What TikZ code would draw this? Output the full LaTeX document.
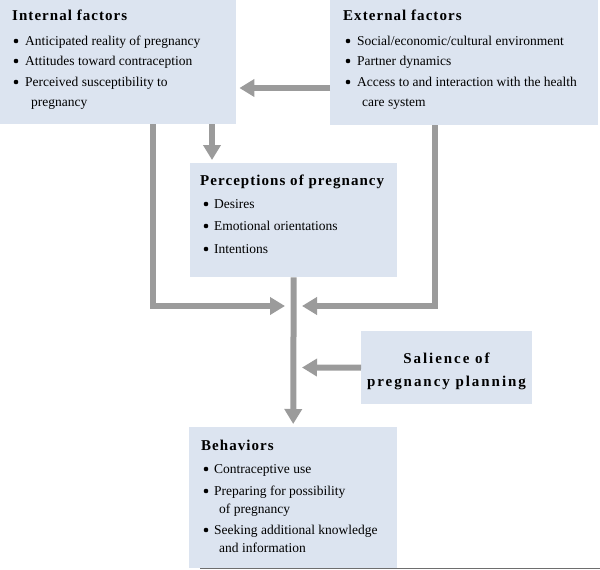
\documentclass[tikz,border=0pt]{standalone}
\usepackage{fontspec}
\setmainfont{Liberation Serif}
\usetikzlibrary{arrows.meta}
\definecolor{boxfill}{RGB}{220,228,240}
\definecolor{arrowgray}{RGB}{155,155,155}
\definecolor{rulegray}{RGB}{110,110,110}
\begin{document}
\begin{tikzpicture}[x=1pt,y=-1pt,
  box/.style={draw=none, fill=boxfill, inner sep=0pt, anchor=north west},
  ttl/.style={anchor=base west, inner sep=0pt, font=\fontsize{15}{18}\selectfont\bfseries\addfontfeature{LetterSpace=7}},
  sal/.style={anchor=base, inner sep=0pt, font=\fontsize{15}{18}\selectfont\bfseries\addfontfeature{LetterSpace=13}},
  itm/.style={anchor=base west, inner sep=0pt, font=\fontsize{13.5}{16}\selectfont},
  bul/.style={circle, fill=black, inner sep=0pt, minimum size=4.6pt},
  flow/.style={draw=arrowgray, line width=6pt, -{Triangle[length=15pt,width=17pt]}},
]
\useasboundingbox (0,0) rectangle (600,570);

% boxes
\node[box, minimum width=236pt, minimum height=124pt] (int) at (0,0) {};
\node[box, minimum width=268pt, minimum height=125pt] (ext) at (330,0) {};
\node[box, minimum width=207pt, minimum height=114pt] (perc) at (190,163) {};
\node[box, minimum width=171pt, minimum height=73pt] (salbox) at (361,331) {};
\node[box, minimum width=208pt, minimum height=141pt] (beh) at (189,427) {};

% Internal factors
\node[ttl] (intT) at (12,20) {Internal factors};
\node[bul] (intB1) at (16,41) {};
\node[itm] (intI1) at (25,45) {Anticipated reality of pregnancy};
\node[bul] (intB2) at (16,61) {};
\node[itm] (intI2) at (25,65) {Attitudes toward contraception};
\node[bul] (intB3) at (16,82) {};
\node[itm] (intI3) at (25,86) {Perceived susceptibility to};
\node[itm] (intI3b) at (31,106) {pregnancy};

% External factors
\node[ttl] (extT) at (343,20) {External factors};
\node[bul] (extB1) at (348,41) {};
\node[itm] (extI1) at (357,45) {Social/economic/cultural environment};
\node[bul] (extB2) at (348,61) {};
\node[itm] (extI2) at (357,65) {Partner dynamics};
\node[bul] (extB3) at (348,82) {};
\node[itm] (extI3) at (357,86) {Access to and interaction with the health};
\node[itm] (extI3b) at (362,106) {care system};

% Perceptions
\node[ttl] (percT) at (200,185) {Perceptions of pregnancy};
\node[bul] (percB1) at (206,204) {};
\node[itm] (percI1) at (214,208) {Desires};
\node[bul] (percB2) at (206,226) {};
\node[itm] (percI2) at (214,230) {Emotional orientations};
\node[bul] (percB3) at (206,249) {};
\node[itm] (percI3) at (214,253) {Intentions};

% Salience
\node[sal] (salT1) at (446.5,363) {Salience of};
\node[sal] (salT2) at (446.5,386) {pregnancy planning};

% Behaviors
\node[ttl] (behT) at (201,450) {Behaviors};
\node[bul] (behB1) at (206,469) {};
\node[itm] (behI1) at (214,473) {Contraceptive use};
\node[bul] (behB2) at (206,491) {};
\node[itm] (behI2) at (214,495) {Preparing for possibility};
\node[itm] (behI2b) at (219,513) {of pregnancy};
\node[bul] (behB3) at (206,530) {};
\node[itm] (behI3) at (214,534) {Seeking additional knowledge};
\node[itm] (behI3b) at (219,552) {and information};

% junction
\coordinate (jn) at (293,306);

% connectors
\draw[flow] (ext.west |- 0,88) -- ([xshift=3pt]int.east |- 0,88);
\draw[flow] (int.south -| 212,0) -- ([yshift=3pt]perc.north -| 212,0);
\draw[flow] (int.south -| 153,0) |- ([xshift=-8pt]jn);
\draw[flow] (ext.south -| 435,0) |- ([xshift=9pt]jn);
\draw[flow] (perc.south) -- ([yshift=3pt]beh.north);
\draw[flow] (salbox.west) -- (302,367.5);

% bottom rule
\draw[rulegray, line width=1.2pt] (200,568.8) -- (600,568.8);
\end{tikzpicture}
\end{document}
